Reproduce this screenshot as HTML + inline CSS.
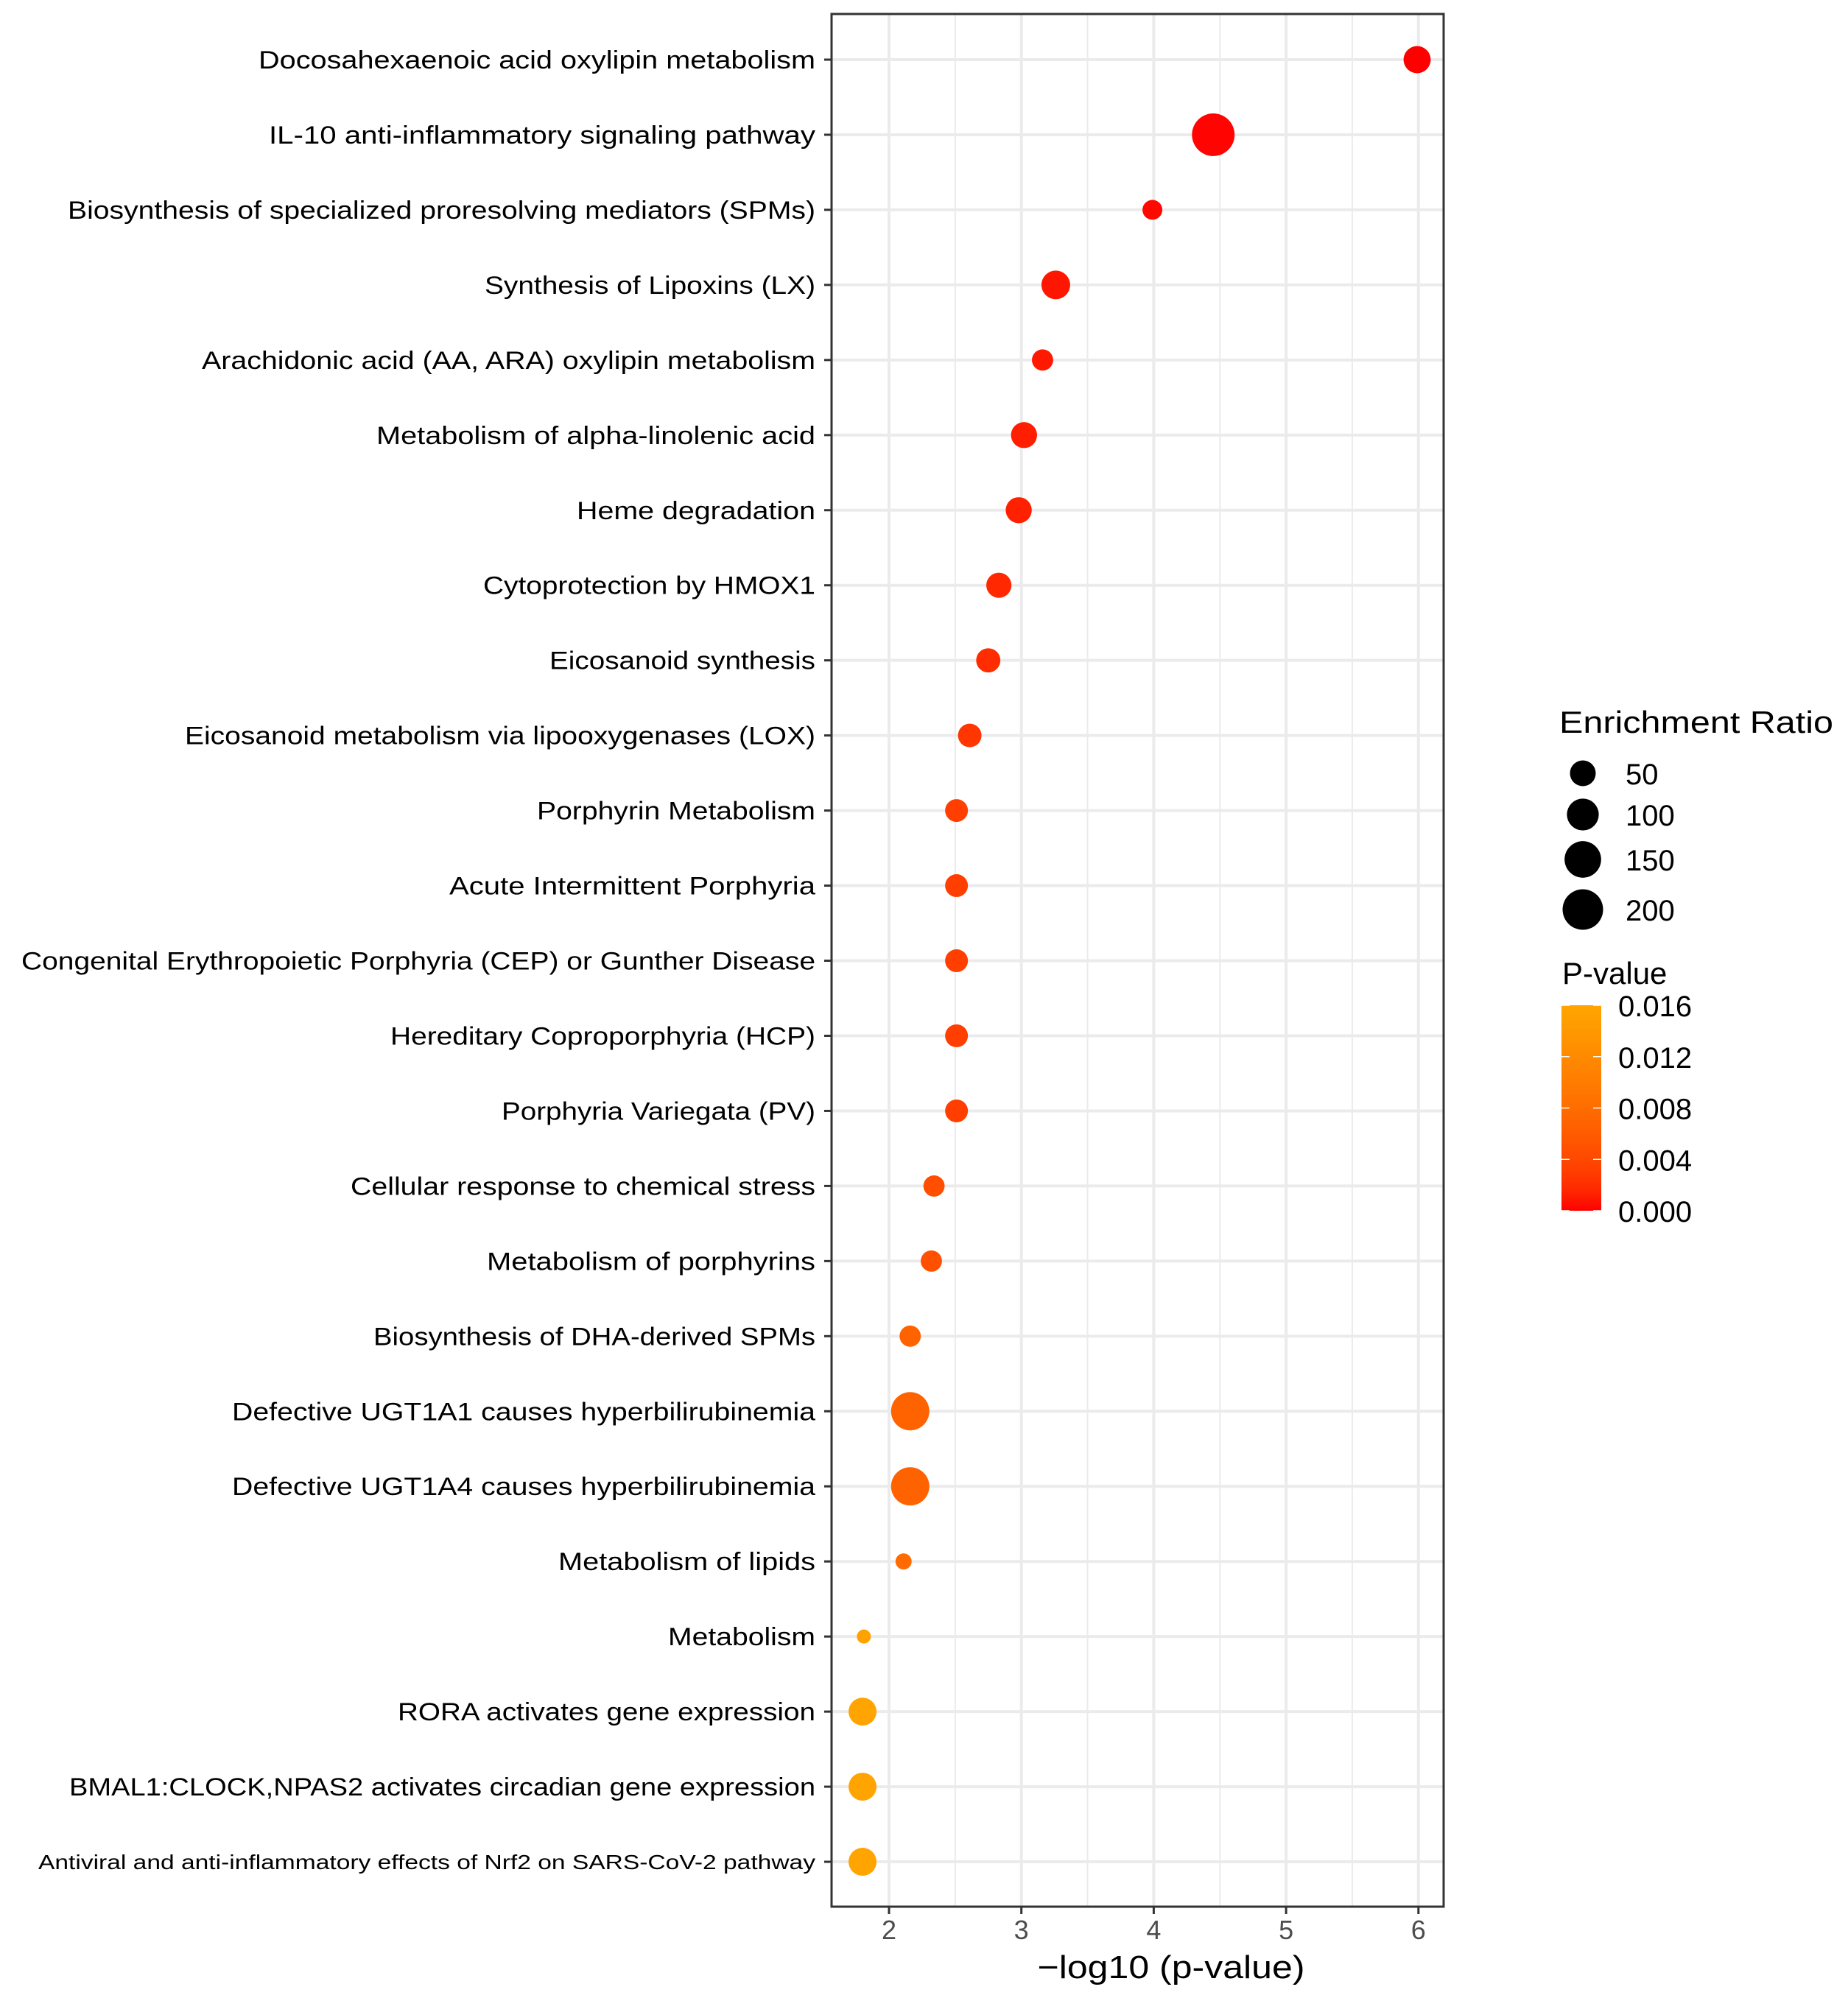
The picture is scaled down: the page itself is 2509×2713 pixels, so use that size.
<!DOCTYPE html>
<html><head><meta charset="utf-8"><style>
html,body{margin:0;padding:0;background:#fff;}
svg{display:block;}
text{font-family:"Liberation Sans",Arial,sans-serif;}
</style></head><body>
<svg id="chart" width="2509" height="2713" viewBox="0 0 2509 2713" xmlns="http://www.w3.org/2000/svg">
<rect width="2509" height="2713" fill="#fff"/>
<g id="grid"></g>
<g id="dots"></g>
<g id="axes"></g>
<g id="legend"></g>
</svg>
<script>
const pathways = [
"Docosahexaenoic acid oxylipin metabolism",
"IL-10 anti-inflammatory signaling pathway",
"Biosynthesis of specialized proresolving mediators (SPMs)",
"Synthesis of Lipoxins (LX)",
"Arachidonic acid (AA, ARA) oxylipin metabolism",
"Metabolism of alpha-linolenic acid",
"Heme degradation",
"Cytoprotection by HMOX1",
"Eicosanoid synthesis",
"Eicosanoid metabolism via lipooxygenases (LOX)",
"Porphyrin Metabolism",
"Acute Intermittent Porphyria",
"Congenital Erythropoietic Porphyria (CEP) or Gunther Disease",
"Hereditary Coproporphyria (HCP)",
"Porphyria Variegata (PV)",
"Cellular response to chemical stress",
"Metabolism of porphyrins",
"Biosynthesis of DHA-derived SPMs",
"Defective UGT1A1 causes hyperbilirubinemia",
"Defective UGT1A4 causes hyperbilirubinemia",
"Metabolism of lipids",
"Metabolism",
"RORA activates gene expression",
"BMAL1:CLOCK,NPAS2 activates circadian gene expression",
"Antiviral and anti-inflammatory effects of Nrf2 on SARS-CoV-2 pathway"
];
const negLogP = [5.99,4.45,3.99,3.26,3.16,3.02,2.98,2.83,2.75,2.61,2.51,2.51,2.51,2.51,2.51,2.34,2.32,2.16,2.16,2.16,2.11,1.81,1.80,1.80,1.80];
const pValues = [0.000001,0.000035,0.0001,0.00055,0.0007,0.00095,0.00105,0.0015,0.0018,0.0025,0.0031,0.0031,0.0031,0.0031,0.0031,0.0046,0.0048,0.0068,0.0068,0.0068,0.0078,0.0155,0.0158,0.0158,0.0158];
const enrichment = [60,230,18,72,24,52,52,46,40,36,32,32,32,32,32,24,24,24,171,171,6,2,66,66,66];
const xTicks = [2,3,4,5,6];
const xMinor = [1.5,2.5,3.5,4.5,5.5];
const sizeLegend = [50,100,150,200];
const colorTicks = ["0.016","0.012","0.008","0.004","0.000"];
const colorTickVals = [0.016,0.012,0.008,0.004,0.000];
const labelLeft = [351,365,92,658,274,511,783,656,746,251,729,610,29,530,681,476,661,507,315,315,758,907,540,94,52];

const NS="http://www.w3.org/2000/svg";
function el(tag,attrs,parent){const e=document.createElementNS(NS,tag);for(const k in attrs)e.setAttribute(k,attrs[k]);parent.appendChild(e);return e;}
const PL=1129,PR=1960,PT=19,PB=2589;
const xs=v=>1207+(v-2)*179.7;
const ys=i=>81+i*101.96;
const rs=v=>7.5+1.414*Math.sqrt(v);
const pMax=0.016;
function col(p){const t=Math.max(0,Math.min(1,p/pMax));const g=Math.round(165*Math.pow(t,0.6));return `rgb(255,${g},0)`;}

const grid=document.getElementById('grid');
xMinor.forEach(v=>{const x=xs(v);if(x>PL&&x<PR){const l=el('line',{x1:x,x2:x,y1:PT,y2:PB,stroke:'#ebebeb','stroke-width':2},grid);

}});
xTicks.forEach(v=>{const x=xs(v);const l=el('line',{x1:x,x2:x,y1:PT,y2:PB,stroke:'#ebebeb','stroke-width':4},grid);

});
pathways.forEach((p,i)=>{const l=el('line',{x1:PL,x2:PR,y1:ys(i),y2:ys(i),stroke:'#ebebeb','stroke-width':4},grid);

});

const dots=document.getElementById('dots');
pathways.forEach((p,i)=>{const c=el('circle',{cx:xs(negLogP[i]),cy:ys(i),r:rs(enrichment[i]),fill:col(pValues[i])},dots);

});

const axes=document.getElementById('axes');
const border=el('rect',{x:PL,y:PT,width:PR-PL,height:PB-PT,fill:'none',stroke:'#333','stroke-width':3},axes);


pathways.forEach((p,i)=>{
 const tk=el('line',{x1:PL-10,x2:PL,y1:ys(i),y2:ys(i),stroke:'#333','stroke-width':3},axes);
 
 
 const last=i===pathways.length-1;
 const t=el('text',{x:1107,y:ys(i)+(last?10:12),'text-anchor':'end','font-size':last?28:34,fill:'#000',textLength:1107-labelLeft[i],lengthAdjust:'spacingAndGlyphs'},axes);
 t.textContent=p;
 
 
});
xTicks.forEach(v=>{
 const tk=el('line',{x1:xs(v),x2:xs(v),y1:PB,y2:PB+10,stroke:'#333','stroke-width':3},axes);
 
 
 const t=el('text',{x:xs(v),y:2633,'text-anchor':'middle','font-size':36,fill:'#4d4d4d'},axes);
 t.textContent=v;
 
 
});
const xt=el('text',{x:1590,y:2686,'text-anchor':'middle','font-size':44,fill:'#000',textLength:363,lengthAdjust:'spacingAndGlyphs'},axes);
xt.textContent='\u2212log10 (p-value)';



const lg=document.getElementById('legend');
const st=el('text',{x:2117,y:995,'font-size':42,fill:'#000',textLength:372,lengthAdjust:'spacingAndGlyphs'},lg);
st.textContent='Enrichment Ratio';


const sy=[1050,1106,1167,1235];
sizeLegend.forEach((v,i)=>{
 const c=el('circle',{cx:2149,cy:sy[i],r:rs(v),fill:'#000'},lg);
 
 
 const t=el('text',{x:2207,y:sy[i]+15,'font-size':40,fill:'#000'},lg);
 t.textContent=v;
 
 
});
const pt=el('text',{x:2121,y:1336,'font-size':42,fill:'#000'},lg);
pt.textContent='P-value';


const defs=el('defs',{},lg);
const grad=el('linearGradient',{id:'pg',x1:0,y1:1,x2:0,y2:0},defs);
for(let k=0;k<=10;k++){el('stop',{offset:k/10,'stop-color':col(pMax*k/10)},grad);}
const bar=el('rect',{x:2120,y:1365,width:54,height:279,fill:'url(#pg)'},lg);


const cy=v=>1644-(v/pMax)*279;
colorTicks.forEach((s,i)=>{
 const y=cy(colorTickVals[i]);
 el('line',{x1:2120,x2:2131,y1:y,y2:y,stroke:'#fff','stroke-width':1.5},lg);
 el('line',{x1:2163,x2:2174,y1:y,y2:y,stroke:'#fff','stroke-width':1.5},lg);
 const t=el('text',{x:2197,y:y+15,'font-size':40,fill:'#000'},lg);
 t.textContent=s;
 
 
});
</script>
</body></html>
